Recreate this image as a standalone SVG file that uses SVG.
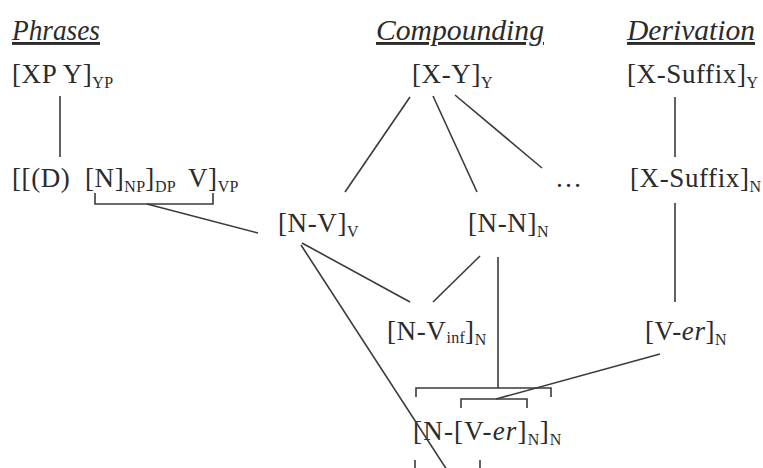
<svg xmlns="http://www.w3.org/2000/svg" width="763" height="468" viewBox="0 0 763 468">
<style>
text{font-family:"Liberation Serif","Times New Roman",serif;fill:#2b2b2b;font-size:27px;letter-spacing:0.6px}
.h{font-style:italic;text-decoration:underline;font-size:29px;letter-spacing:0}
.s{font-size:16px;letter-spacing:0.3px}
.i{font-style:italic}
.c line,.c path{stroke:#3a3a3a;stroke-width:1.6;fill:none}
</style>
<rect width="763" height="468" fill="#fff"/>
<g id="headers">
<text class="h" x="12" y="40" textLength="88" lengthAdjust="spacingAndGlyphs">Phrases</text>
<text class="h" x="376" y="40" textLength="168" lengthAdjust="spacingAndGlyphs">Compounding</text>
<text class="h" x="627" y="40" textLength="128" lengthAdjust="spacingAndGlyphs">Derivation</text>
</g>
<g id="n-xpy"><text x="12" y="83">[XP Y]<tspan class="s" dy="5">YP</tspan></text></g>
<g id="n-xy"><text x="412" y="83">[X-Y]<tspan class="s" dy="5">Y</tspan></text></g>
<g id="n-xsuffix-y"><text x="627" y="83">[X-Suffix]<tspan class="s" dy="5">Y</tspan></text></g>
<g id="n-dnv"><text x="12" y="187">[[(D)<tspan x="85">[N]</tspan><tspan class="s" dy="5">NP</tspan><tspan dy="-5">]</tspan><tspan class="s" dy="5">DP</tspan><tspan x="188" dy="-5">V]</tspan><tspan class="s" dy="5">VP</tspan></text></g>
<g id="n-ellipsis"><text x="555" y="187">…</text></g>
<g id="n-xsuffix-n"><text x="630" y="187">[X-Suffix]<tspan class="s" dy="5">N</tspan></text></g>
<g id="n-nv"><text x="278" y="232">[N-V]<tspan class="s" dy="5">V</tspan></text></g>
<g id="n-nn"><text x="468" y="232">[N-N]<tspan class="s" dy="5">N</tspan></text></g>
<g id="n-nvinf"><text x="387" y="340">[N-V<tspan class="s" dy="3">inf</tspan><tspan dy="-3">]</tspan><tspan class="s" dy="5">N</tspan></text></g>
<g id="n-ver"><text x="645" y="340">[V-<tspan class="i">er</tspan>]<tspan class="s" dy="5">N</tspan></text></g>
<g id="n-nver"><text x="413" y="440" style="letter-spacing:1.2px">[N-[V-<tspan class="i">er</tspan>]<tspan class="s" dy="5">N</tspan><tspan dy="-5">]</tspan><tspan class="s" dy="5">N</tspan></text></g>
<g id="connectors" class="c">
<line x1="60" y1="96" x2="60" y2="157"/>
<line x1="410" y1="97" x2="345" y2="192"/>
<line x1="433" y1="96" x2="477" y2="192"/>
<line x1="455" y1="95" x2="542" y2="168"/>
<line x1="675" y1="97" x2="675" y2="157"/>
<line x1="675" y1="203" x2="675" y2="302"/>
<path d="M95 193V204H213V193"/>
<line x1="147" y1="204" x2="258" y2="233"/>
<line x1="302" y1="243" x2="410" y2="302"/>
<line x1="480" y1="256" x2="433" y2="302"/>
<line x1="301" y1="245" x2="447" y2="470"/>
<line x1="498" y1="257" x2="498" y2="388"/>
<path d="M416 397V388H551V397"/>
<path d="M461 408V399H527V408"/>
<line x1="660" y1="354" x2="496" y2="399"/>
<line x1="415" y1="460" x2="415" y2="470"/>
<line x1="480" y1="460" x2="480" y2="470"/>
</g>
</svg>
